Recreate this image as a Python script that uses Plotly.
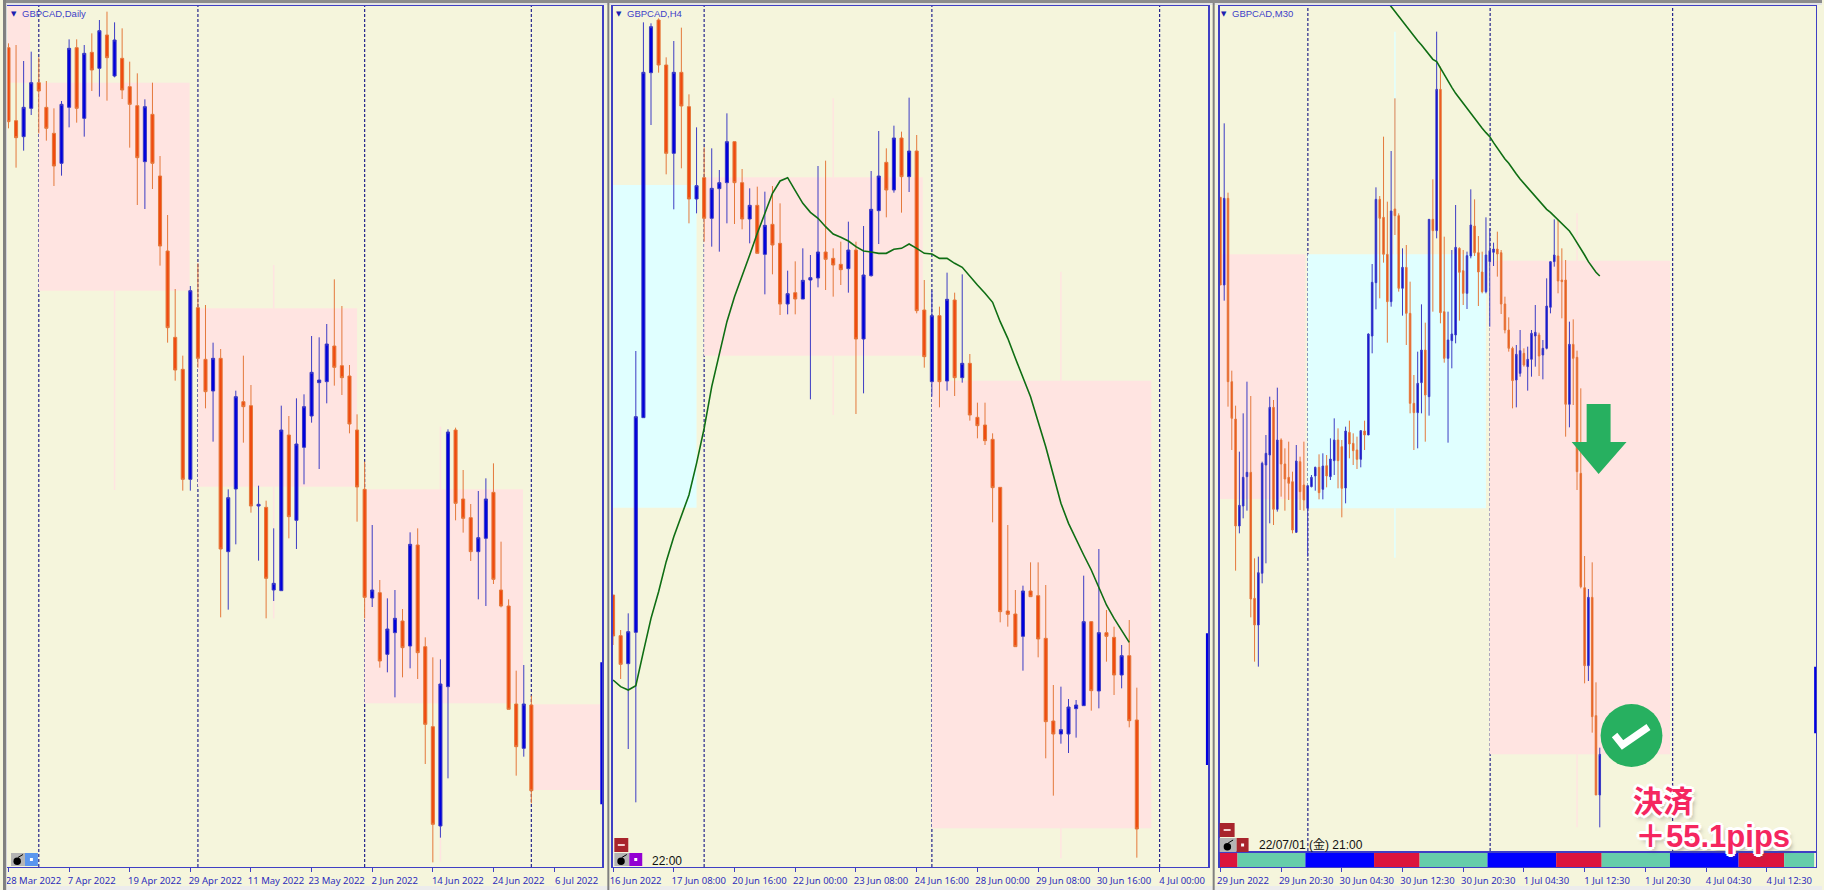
import plotly.graph_objects as go

W, H = 1824, 890
BEIGE = "#F5F5DC"
PINK = "#FFE4E1"
CYAN = "#E0FFFF"
UP_FILL, UP_WICK = "#0000DC", "#3C3CC4"
DN_FILL, DN_WICK = "#F04A0F", "#E4793C"
MA_GREEN = "#0F6E14"
LABEL_BLUE = "#2C2CBE"
FRAME = "#3F3FC4"
SEP = "#24248C"

# ---------- Daily panel (price points) ----------
daily_open = [2527,2308,2260,2345,2422,2348,2270,2180,2348,2527,2315,2513,2465,2565,2442,2495,2410,2353,2185,2327,
              2142,1917,1658,1562,1232,1747,1592,1497,1595,1015,1203,1465,1453,1152,1148,900,898,1365,1109,1328,
              1422,1522,1525,1632,1573,1542,1380,1202,876,892,707,772,807,732,1035,730,490,192,610,1380,
              1173,1117,1015,1055,1193,900,852,558,425,555]
daily_high = [2540,2535,2487,2515,2498,2427,2345,2367,2552,2552,2535,2570,2610,2635,2603,2585,2485,2450,2372,2422,
              2202,2025,1803,1603,1812,1880,1755,1642,1623,1202,1498,1603,1515,1213,1168,1085,1453,1422,1475,1487,
              1662,1658,1698,1832,1752,1575,1427,1285,1095,930,875,900,843,1073,1085,758,698,692,1382,1387,
              1260,1158,1197,1235,1280,1045,872,658,675,583]
daily_low = [2285,2167,2218,2325,2270,2248,2112,2143,2288,2302,2260,2397,2380,2368,2438,2373,2227,2055,2043,2103,
             1873,1642,1528,1198,1198,1567,1445,1345,818,841,1037,1342,1132,988,815,867,898,1055,1023,1217,
             1402,1263,1460,1513,1485,1370,1105,815,849,667,653,578,638,665,633,378,83,157,335,1109,
             1072,987,872,852,918,848,542,343,400,260]
daily_close = [2305,2257,2348,2422,2397,2285,2172,2357,2525,2345,2510,2460,2578,2497,2550,2400,2357,2197,2350,2180,
               1932,1687,1560,1232,1798,1595,1495,1595,1023,1177,1480,1450,1152,1157,935,920,1380,1120,1338,1450,
               1553,1530,1638,1568,1537,1398,1209,878,900,687,783,815,727,1037,712,497,197,618,1374,1160,
               1115,1015,1057,1173,932,852,542,430,558,298]
daily_ticks = [0, 8, 16, 24, 32, 40, 48, 56, 64, 72]
daily_labels = ["28 Mar 2022","7 Apr 2022","19 Apr 2022","29 Apr 2022","11 May 2022","23 May 2022",
                "2 Jun 2022","14 Jun 2022","24 Jun 2022","6 Jul 2022"]
daily_separators = [4, 25, 47, 69]
daily_zone_start = [-0.2, 4, 25, 47, 69]
daily_zone_end = [2.85, 23.9, 46, 67.9, 78.2]
daily_zone_top = [2700, 2422, 1745, 1202, 557]
daily_zone_bottom = [2422, 1798, 1210, 560, 300]
daily_zone_fill = [PINK, PINK, PINK, PINK, PINK]
daily_zone_wick_x = [14, 35, 35, 57, 57]
daily_zone_wick_hi = [1798, 1875, 1210, 1390, 195]
daily_zone_wick_lo = [1200, 1745, 815, 1202, 85]
daily_edge_x = [78.3, 78.3]
daily_edge_y = [683, 257]

# ---------- H4 panel ----------
h4_open = [885,763,679,773,1417,2452,2610,2475,2210,2453,2350,2073,2137,2015,2104,2122,2245,2122,2013,2054,
           1907,1997,1940,1758,1792,1773,1830,1836,1914,1895,1877,1864,1920,1653,1843,2038,2183,2100,2256,2140,
           2217,1740,1525,1723,1527,1770,1537,1580,1418,1395,1352,1208,837,828,761,897,883,755,507,468,
           468,544,553,805,597,772,758,645,703,510]
h4_high = [885,780,830,1617,2603,2600,2615,2498,2547,2587,2387,2288,2228,2225,2160,2330,2245,2163,2105,2110,
           2095,2112,2060,1858,1886,1925,1905,2172,2188,1925,1945,2005,1945,1992,2157,2277,2225,2293,2275,2377,
           2265,1830,1798,1750,1852,1792,1847,1608,1462,1462,1370,1208,1095,900,913,983,983,915,615,610,
           573,570,943,807,1023,840,790,735,810,607]
h4_low = [735,633,423,263,1417,2295,2452,2147,2042,2165,2000,2030,1945,1930,1915,2000,1998,1982,1940,1910,
          1787,1847,1725,1727,1727,1773,1472,1808,1800,1780,1815,1792,1428,1490,1840,1938,2018,2092,2032,2094,
          1730,1567,1480,1448,1498,1482,1522,1408,1355,1335,1103,803,790,730,658,880,698,395,283,439,
          411,457,553,538,545,685,585,605,488,97]
h4_close = [762,677,775,1420,2453,2590,2475,2210,2453,2352,2073,2113,2015,2105,2122,2245,2122,2013,2054,1910,
            1994,1935,1758,1789,1773,1829,1837,1914,1892,1875,1861,1920,1653,1845,2042,2142,2100,2256,2140,2217,
            1738,1600,1723,1525,1772,1537,1580,1425,1393,1348,1207,835,827,730,897,880,753,505,468,481,
            549,555,805,598,772,761,645,703,508,183]
h4_ma = [630,610,600,613,715,815,895,985,1060,1125,1185,1280,1385,1510,1610,1705,1780,1840,1905,1970,
         2030,2090,2127,2137,2098,2060,2033,2015,1990,1968,1958,1947,1930,1917,1914,1910,1910,1922,1925,1938,
         1925,1910,1908,1895,1895,1880,1868,1840,1815,1790,1763,1705,1655,1595,1540,1480,1405,1330,1245,1160,
         1100,1050,1005,960,905,855,815,780,743]
h4_ticks = [0, 8, 16, 24, 32, 40, 48, 56, 64, 72]
h4_labels = ["16 Jun 2022","17 Jun 08:00","20 Jun 16:00","22 Jun 00:00","23 Jun 08:00","24 Jun 16:00",
             "28 Jun 00:00","29 Jun 08:00","30 Jun 16:00","4 Jul 00:00"]
h4_separators = [12, 42, 72]
h4_zone_start = [-0.2, 12, 42]
h4_zone_end = [11, 40.8, 70.9]
h4_zone_top = [2115, 2138, 1528]
h4_zone_bottom = [1147, 1603, 185]
h4_zone_fill = [CYAN, PINK, PINK]
h4_zone_wick_x = [29, 29, 59, 59]
h4_zone_wick_hi = [2375, 1603, 1855, 185]
h4_zone_wick_lo = [2138, 1425, 1528, 95]
h4_edge_x = [78.3, 78.3]
h4_edge_y = [770, 375]

# ---------- M30 panel ----------
m30_open = [2078,1815,2075,1525,1413,1092,1152,1240,1253,875,795,950,1275,1305,1448,1142,1350,1278,1238,1225,
            1073,1285,1215,1145,1210,1242,1268,1202,1273,1240,1288,1350,1330,1206,1373,1340,1320,1292,1377,1365,
            1662,1822,2072,2018,1907,1765,2043,2023,1805,1868,1730,1460,1432,1522,1620,1480,2012,1978,2402,1735,
            1595,1648,1665,1925,1858,1790,1902,1992,1912,1854,1795,1885,1913,1923,1912,1758,1680,1625,1530,1550,
            1610,1570,1592,1662,1665,1605,1625,1748,1885,1902,1830,1830,1457,1637,1598,1250,907,673,878,523,285]
m30_high = [2078,2300,2092,1558,1453,1315,1430,1525,1482,995,1000,1285,1365,1480,1470,1507,1355,1325,1345,1255,
            1335,1300,1345,1215,1245,1270,1307,1310,1305,1355,1415,1385,1350,1390,1408,1370,1360,1378,1408,1670,
            1878,2108,2082,2260,2065,2217,2375,2030,1925,1935,1825,1545,1615,1757,1702,2012,2132,2575,2470,1960,
            1735,1920,2055,1928,1920,1915,2102,2072,1962,1915,2018,1985,1942,1975,1920,1780,1718,1630,1635,1680,
            1625,1630,1680,1755,1672,1650,1835,1885,2012,2010,1925,1890,1705,1712,1618,1505,1002,903,983,623,427]
m30_low = [1815,1768,1450,1320,958,1070,1115,1138,818,685,670,920,980,1100,1095,1135,1180,1138,1170,1070,
           1072,1140,1138,1000,1208,1198,1172,1172,1208,1230,1245,1205,1118,1160,1295,1275,1263,1268,1320,1365,
           1610,1742,1775,1882,1642,1750,1965,1795,1723,1635,1430,1320,1325,1430,1345,1423,1735,1955,1700,1582,
           1342,1565,1640,1708,1755,1743,1895,1902,1752,1790,1790,1690,1872,1840,1728,1670,1615,1445,1448,1540,
           1570,1498,1540,1570,1542,1532,1622,1730,1870,1790,1715,1360,1388,1455,1200,905,620,627,472,285,188]
m30_close = [1815,2075,1525,1415,1092,1154,1238,1253,873,795,952,1280,1310,1448,1142,1350,1278,1233,1220,1080,
             1287,1195,1170,1213,1238,1268,1192,1272,1242,1293,1350,1288,1205,1377,1338,1318,1292,1378,1365,1668,
             1823,2072,2015,1907,1765,2037,2023,1805,1868,1730,1460,1432,1520,1620,1485,2012,1978,2402,1732,1595,
             1650,1668,1928,1853,1790,1903,1995,1912,1854,1795,1905,1918,1923,1908,1758,1680,1625,1528,1607,1618,
             1575,1592,1670,1673,1602,1625,1752,1885,1905,1827,1825,1457,1637,1595,1255,910,673,878,520,285,407]
m30_ma_x = list(range(44, 101))
m30_ma = [2665,2650,2635,2620,2605,2590,2578,2563,2548,2535,2520,2505,2492,2485,2465,2445,2425,2408,2390,2375,
          2358,2343,2328,2313,2298,2285,2272,2260,2242,2225,2210,2193,2180,2163,2148,2133,2120,2105,2092,2078,
          2067,2053,2042,2033,2022,2010,1998,1988,1977,1960,1943,1925,1905,1885,1870,1853,1842]
m30_ticks = [0, 16, 32, 48, 64, 80, 96, 112, 128, 144]
m30_labels = ["29 Jun 2022","29 Jun 20:30","30 Jun 04:30","30 Jun 12:30","30 Jun 20:30","1 Jul 04:30",
              "1 Jul 12:30","1 Jul 20:30","4 Jul 04:30","4 Jul 12:30"]
m30_separators = [23.05, 71.1, 119.2]
m30_zone_start = [-0.3, 23, 71]
m30_zone_end = [22.4, 70, 118.5]
m30_zone_top = [1907, 1907, 1888]
m30_zone_bottom = [1173, 1145, 407]
m30_zone_fill = [PINK, CYAN, PINK]
m30_zone_wick_x = [46, 46, 94, 94]
m30_zone_wick_hi = [2575, 1145, 2030, 407]
m30_zone_wick_lo = [1907, 997, 1888, 188]
m30_zone_wick_fill = [CYAN, CYAN, PINK, PINK]
m30_edge_x = [156.9, 156.9]
m30_edge_y = [670, 470]

session_start = [-0.3, 4.5, 22.4, 40.5, 52.5, 70.4, 88.5, 100.5, 118.5, 136.6, 148.6]
session_length = [4.8, 17.9, 18.1, 12.0, 17.9, 18.1, 12.0, 18.0, 18.1, 12.0, 7.9]
session_fill = ["#DC143C","#66CDAA","#0000FF","#DC143C","#66CDAA","#0000FF","#DC143C","#66CDAA","#0000FF","#DC143C","#66CDAA"]


def px(x):
    return x / W


def py(y):
    return 1 - y / H


def pad(labels):
    longest = max(len(s) for s in labels)
    return [s + "\u00a0\u00a0" * (longest - len(s)) for s in labels]


fig = go.Figure()
shapes, notes = [], []


def candle(o, h, l, c, xa, ya):
    fig.add_trace(go.Candlestick(
        x=list(range(len(o))), open=o, high=h, low=l, close=c, xaxis=xa, yaxis=ya,
        whiskerwidth=0, showlegend=False,
        increasing=dict(fillcolor=UP_FILL, line=dict(color=UP_WICK, width=1)),
        decreasing=dict(fillcolor=DN_FILL, line=dict(color=DN_WICK, width=1)),
    ))


def edge(x, y, xa, ya):
    fig.add_trace(go.Scatter(x=x, y=y, mode="lines", xaxis=xa, yaxis=ya, showlegend=False,
                             line=dict(color="#0000E0", width=3)))


def zones(start, end, top, bottom, fills, wx, whi, wlo, wfill, seps, xa, ya):
    for s, e, t, b, f in zip(start, end, top, bottom, fills):
        shapes.append(dict(type="rect", xref=xa, yref=ya, x0=s, x1=e, y0=b, y1=t,
                           fillcolor=f, line_width=0, layer="below"))
    for x, hi, lo, f in zip(wx, whi, wlo, wfill):
        shapes.append(dict(type="line", xref=xa, yref=ya, x0=x, x1=x, y0=lo, y1=hi,
                           line=dict(color=f, width=1.5), layer="below"))
    for x in seps:
        shapes.append(dict(type="line", xref=xa, yref=f"{ya} domain", x0=x, x1=x, y0=0, y1=1,
                           line=dict(color=SEP, width=1.2, dash="3px,2px"), layer="below"))


zones(daily_zone_start, daily_zone_end, daily_zone_top, daily_zone_bottom, daily_zone_fill,
      daily_zone_wick_x, daily_zone_wick_hi, daily_zone_wick_lo, [PINK] * 5, daily_separators, "x", "y")
candle(daily_open, daily_high, daily_low, daily_close, "x", "y")
edge(daily_edge_x, daily_edge_y, "x", "y")

zones(h4_zone_start, h4_zone_end, h4_zone_top, h4_zone_bottom, h4_zone_fill,
      h4_zone_wick_x, h4_zone_wick_hi, h4_zone_wick_lo, [PINK] * 4, h4_separators, "x2", "y2")
candle(h4_open, h4_high, h4_low, h4_close, "x2", "y2")
fig.add_trace(go.Scatter(x=list(range(len(h4_ma))), y=h4_ma, mode="lines", xaxis="x2", yaxis="y2",
                         showlegend=False, line=dict(color=MA_GREEN, width=1.6)))
edge(h4_edge_x, h4_edge_y, "x2", "y2")

zones(m30_zone_start, m30_zone_end, m30_zone_top, m30_zone_bottom, m30_zone_fill,
      m30_zone_wick_x, m30_zone_wick_hi, m30_zone_wick_lo, m30_zone_wick_fill, m30_separators, "x3", "y3")
candle(m30_open, m30_high, m30_low, m30_close, "x3", "y3")
fig.add_trace(go.Scatter(x=m30_ma_x, y=m30_ma, mode="lines", xaxis="x3", yaxis="y3",
                         showlegend=False, line=dict(color=MA_GREEN, width=1.6)))
edge(m30_edge_x, m30_edge_y, "x3", "y3")

fig.add_trace(go.Bar(y=[0] * len(session_start), x=session_length, base=session_start, orientation="h",
                     width=1, marker=dict(color=session_fill, line_width=0), xaxis="x4", yaxis="y4",
                     showlegend=False))


def xaxis(domain, rng, ticks=None, labels=None, shift=25):
    d = dict(domain=[px(domain[0]), px(domain[1])], range=rng, showgrid=False, zeroline=False,
             showline=True, mirror=True, linecolor=FRAME, linewidth=1.4,
             rangeslider=dict(visible=False), fixedrange=True)
    if ticks:
        d.update(tickmode="array", tickvals=ticks, ticktext=pad(labels), ticks="outside", ticklen=4,
                 tickwidth=1, tickcolor=FRAME, ticklabelshift=shift, ticklabelstandoff=0,
                 tickfont=dict(family="Noto Sans", size=9.5, color=LABEL_BLUE), tickangle=0)
    else:
        d.update(showticklabels=False, ticks="")
    return d


def yaxis(domain, rng, anchor):
    return dict(domain=[py(domain[1]), py(domain[0])], range=rng, anchor=anchor, showgrid=False, zeroline=False,
                showline=True, mirror=True, linecolor=FRAME, linewidth=1.4, showticklabels=False, ticks="",
                fixedrange=True)


layout = dict(
    width=W, height=H, margin=dict(l=0, r=0, t=0, b=0), paper_bgcolor=BEIGE, plot_bgcolor=BEIGE,
    boxgap=0.42, barmode="overlay", hovermode=False, dragmode=False,
    xaxis=dict(xaxis((4.5, 601), [-0.13, 78.37], daily_ticks, daily_labels), anchor="y"),
    yaxis=yaxis((6, 867), [69, 2652], "x"),
    xaxis2=dict(xaxis((611.5, 1208.5), [-0.03, 78.4], h4_ticks, h4_labels), anchor="y2"),
    yaxis2=yaxis((6, 867), [69, 2652], "x2"),
    xaxis3=dict(xaxis((1220, 1818), [-0.2, 157]), anchor="y3"),
    yaxis3=yaxis((6, 851), [117, 2652], "x3"),
    xaxis4=dict(xaxis((1220, 1818), [-0.2, 157], m30_ticks, m30_labels), anchor="y4"),
    yaxis4=yaxis((853, 867), [-0.5, 0.5], "x4"),
)

# ---------- window chrome (paper space) ----------
def rect(x0, y0, x1, y1, fill, layer="above"):
    shapes.append(dict(type="rect", xref="paper", yref="paper", x0=px(x0), x1=px(x1), y0=py(y1), y1=py(y0),
                       fillcolor=fill, line_width=0, layer=layer))


rect(0, 0, W, 3, "#8C8C8C")
rect(0, 3, W, 5, "#E4E4E4")
rect(0, 886, W, H, "#ECECEC")
rect(0, 0, 3, H, "#808080")
rect(3, 3, 4, H, "#D8D8D8")
for bar_x in (607, 1214):
    rect(bar_x - 1, 3, bar_x + 1, H, "#808080")


def button(x0, y0, x1, y1, fill, glyph=None):
    rect(x0, y0, x1, y1, fill)
    cx, cy = (x0 + x1) / 2, (y0 + y1) / 2
    if glyph == "dot":
        rect(cx - 1.5, cy - 1.5, cx + 1.5, cy + 1.5, "#FFFFFF")
    elif glyph == "minus":
        rect(cx - 3.5, cy - 1, cx + 3.5, cy + 1, "#F4D0D0")
    elif glyph == "bomb":
        shapes.append(dict(type="circle", xref="paper", yref="paper", x0=px(cx - 4.5), x1=px(cx + 3),
                           y0=py(cy + 5.5), y1=py(cy - 2), fillcolor="#000000", line_width=0))
        shapes.append(dict(type="line", xref="paper", yref="paper", x0=px(cx), x1=px(cx + 5),
                           y0=py(cy - 2), y1=py(cy - 5), line=dict(color="#000000", width=1)))


button(8, 853, 22, 866, "#B4B4B4", "bomb")
button(22, 853, 35, 866, "#5A96EE", "dot")
button(613, 838, 627, 852, "#A8242C", "minus")
button(613, 853, 628, 866, "#B4B4B4", "bomb")
button(628, 853, 641, 866, "#9400D3", "dot")
button(1220, 823, 1235, 837, "#A8242C", "minus")
button(1220, 838, 1237, 852, "#B4B4B4", "bomb")
button(1237, 838, 1249, 852, "#A8242C", "dot")


# ---------- overlay: arrow, check ----------
def path(points, closed=True):
    head = "M " + " L ".join(f"{px(x)},{py(y)}" for x, y in points)
    return head + (" Z" if closed else "")


GREEN = "#27B060"
shapes.append(dict(type="path", xref="paper", yref="paper", fillcolor=GREEN, line_width=0, layer="above",
                   path=path([(1588, 404), (1612, 404), (1612, 442), (1628, 442), (1600, 474), (1573, 442), (1588, 442)])))
shapes.append(dict(type="circle", xref="paper", yref="paper", x0=px(1602), x1=px(1664), y0=py(767), y1=py(704),
                   fillcolor=GREEN, line_width=0, layer="above"))
shapes.append(dict(type="path", xref="paper", yref="paper", fillcolor="rgba(0,0,0,0)",
                   line=dict(color="#FFFFFF", width=7), layer="above",
                   path=path([(1616, 735), (1624, 745), (1650, 727)], closed=False)))


def note(x, y, text, size, color, family="Liberation Sans", anchor="left", bold=False, shadow=None):
    notes.append(dict(xref="paper", yref="paper", x=px(x), y=py(y), text=f"<b>{text}</b>" if bold else text,
                      showarrow=False, xanchor=anchor, yanchor="middle", align="left", borderpad=0,
                      font=dict(family=family, size=size, color=color, **({"shadow": shadow} if shadow else {}))))


for left, name in ((7.5, "GBPCAD,Daily"), (614, "GBPCAD,H4"), (1220, "GBPCAD,M30")):
    note(left, 14, "\u25bc", 7, "#2020B0", "DejaVu Sans")
    note(left + 11, 14, name, 9.5, "#4040C8")

note(650, 861, "22:00", 12, "#111111")
note(1258, 845, "22/07/01 (\u91d1) 21:00", 12, "#111111", "Liberation Sans, Noto Sans CJK JP")

OUTLINE = ("3px 0 0 #fff, -3px 0 0 #fff, 0 3px 0 #fff, 0 -3px 0 #fff, 2px 2px 0 #fff, -2px 2px 0 #fff, "
           "2px -2px 0 #fff, -2px -2px 0 #fff, 3px 4px 4px rgba(90,90,90,0.5)")
note(1633, 801.5, "\u6c7a\u6e08", 30, "#F5265F", "Liberation Sans, Noto Sans CJK JP", bold=True, shadow=OUTLINE)
note(1635, 836, "\uff0b55.1pips", 31, "#F5265F", "Liberation Sans, Noto Sans CJK JP", bold=True, shadow=OUTLINE)

layout["shapes"] = shapes
layout["annotations"] = notes
fig.update_layout(**layout)
fig.write_html("out.html", config=dict(displayModeBar=False, staticPlot=True),
               post_script="document.body.style.margin='0';document.body.style.overflow='hidden';")
